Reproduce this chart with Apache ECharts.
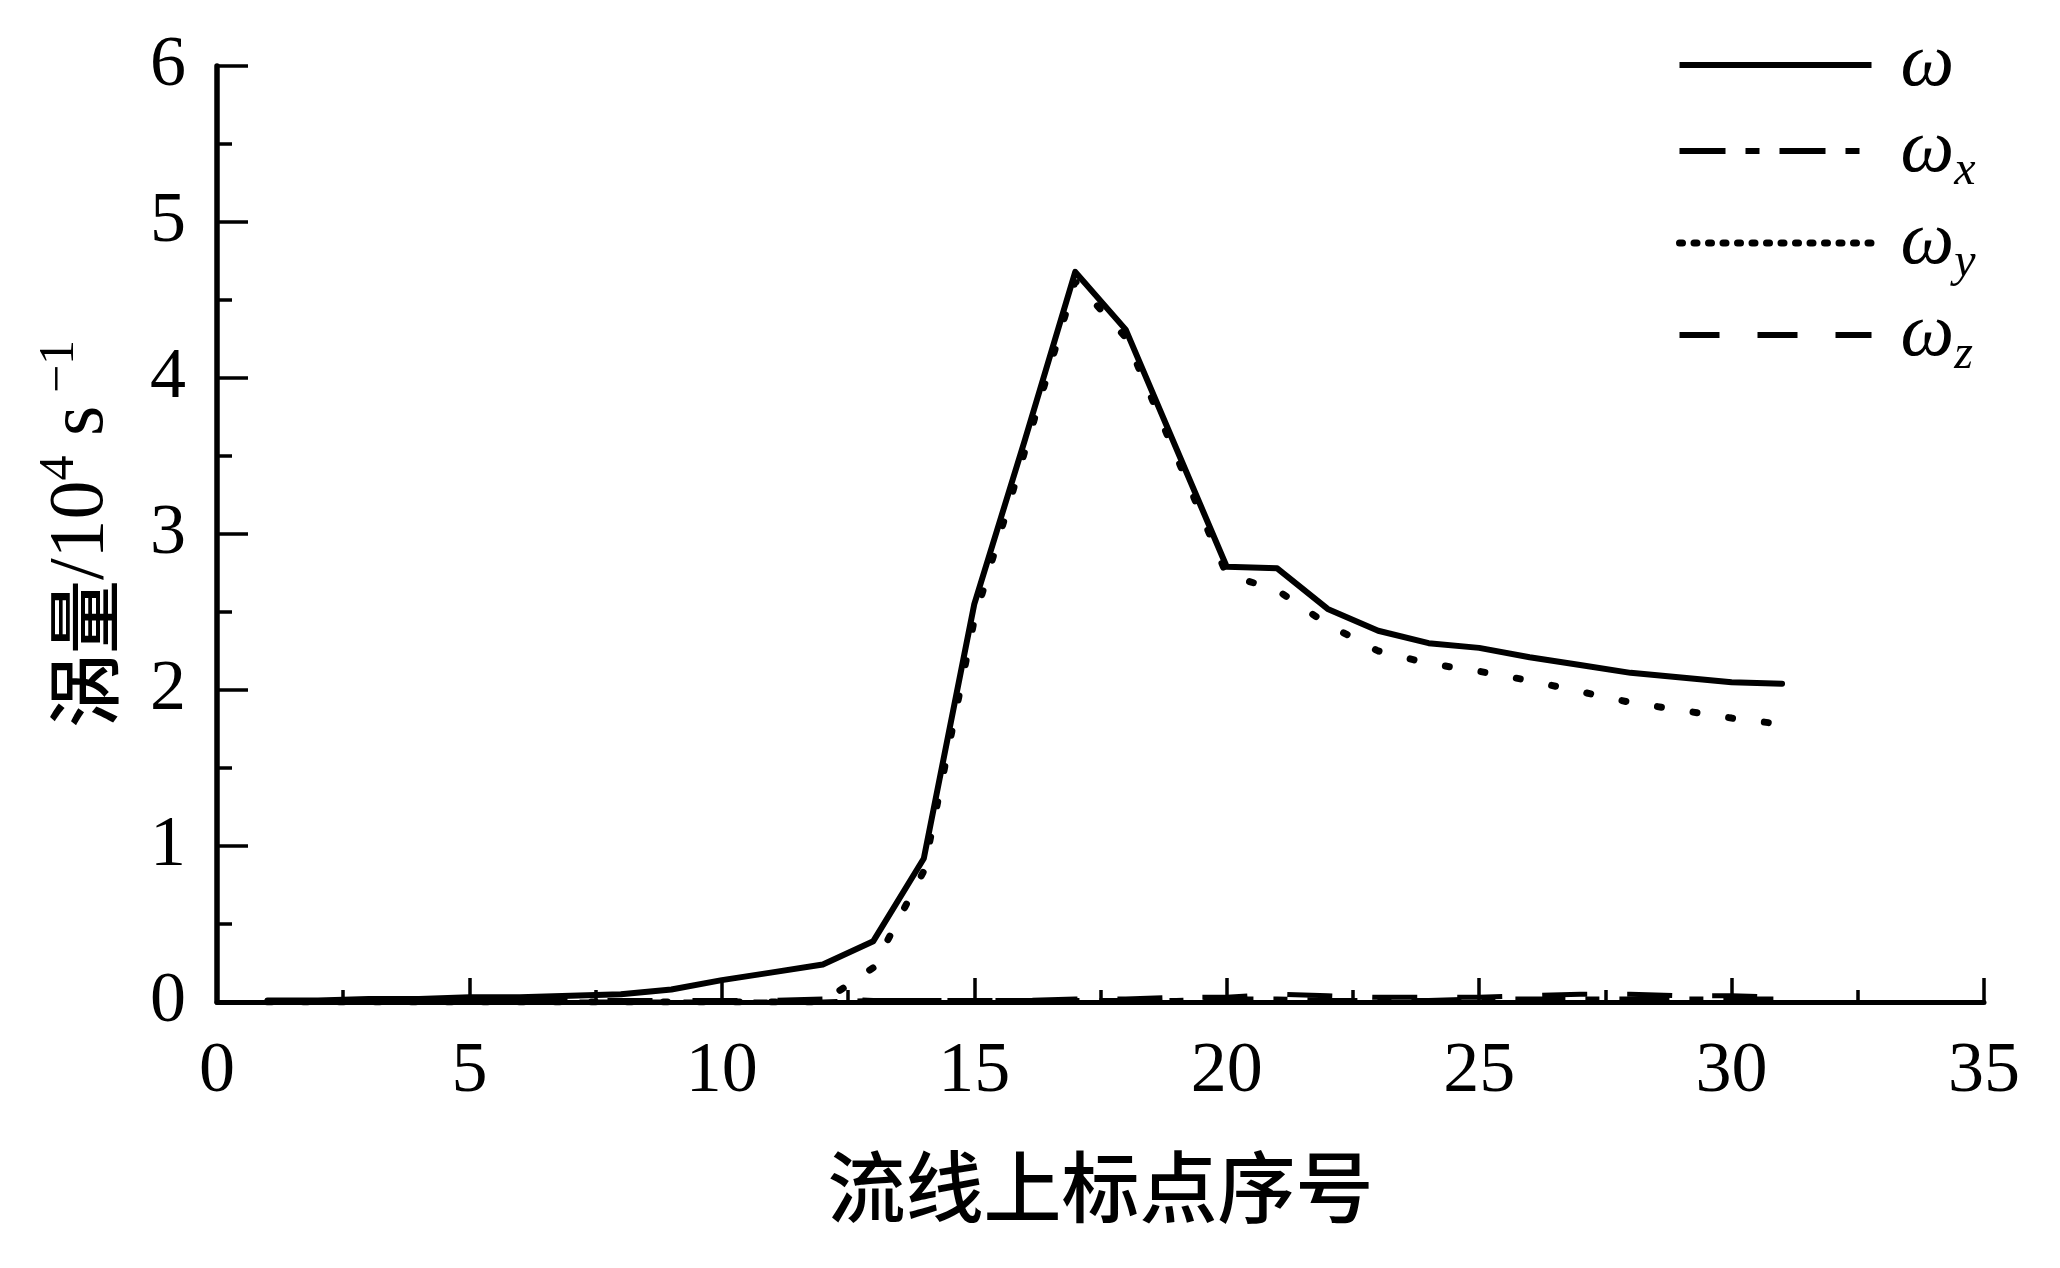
<!DOCTYPE html>
<html>
<head>
<meta charset="utf-8">
<script src="https://cdn.jsdelivr.net/npm/echarts@6/dist/echarts.min.js"></script>
<style>
html,body{margin:0;padding:0;background:#ffffff;}
#chart{width:2060px;height:1268px;}
</style>
</head>
<body>
<div id="chart"></div>
<script>
// ---- data ----
const pointIndex = [1,2,3,4,5,6,7,8,9,10,11,12,13,14,15,16,17,18,19,20,21,22,23,24,25,26,27,28,29,30,31];
const omega  = [0.01,0.01,0.02,0.02,0.03,0.03,0.04,0.05,0.08,0.14,0.19,0.24,0.39,0.92,2.55,3.60,4.68,4.31,3.55,2.79,2.78,2.52,2.38,2.30,2.27,2.21,2.16,2.11,2.08,2.05,2.04];
const omegaX = [0,0,0,0,0,0,0,0,0,0,0,0,0.01,0.01,0.01,0.01,0.01,0.01,0.01,0.02,0.02,0.01,0.01,0.01,0.02,0.02,0.02,0.02,0.02,0.02,0.02];
const omegaY = [0,0,0,0,0,0,0,0,0,0,0,0,0.22,0.84,2.45,3.53,4.62,4.26,3.50,2.74,2.64,2.42,2.25,2.17,2.12,2.06,1.99,1.92,1.87,1.82,1.78];
const omegaZ = [0.01,0.01,0.01,0.01,0.01,0.01,0.01,0.01,0.01,0.01,0.01,0.02,0.01,0.01,0.01,0.01,0.02,0.02,0.03,0.03,0.05,0.04,0.03,0.03,0.03,0.04,0.05,0.05,0.04,0.04,0.03];
const seriesNames = ['ω', 'ωx', 'ωy', 'ωz'];
const xAxisName = '流线上标点序号';
const yAxisName = '{cn|涡量}{n|/10}{sup|4}{n| s}{sup| −1}';
const xRange = [0, 35, 5];
const yRange = [0, 6, 1];

// ---- styles ----
const serif = 'Liberation Serif';
const cjk = 'Noto Sans CJK SC';
const plotStyles = [
  {type: 'solid', width: 6, cap: 'round', join: 'round'},
  {type: [50, 20, 14, 20], width: 5, cap: 'butt'},
  {type: [4, 32], width: 7, cap: 'round'},
  {type: [45, 40], width: 5, cap: 'butt'}
];
const legendStyles = [
  {type: 'solid', width: 6, cap: 'butt'},
  {type: [46, 20, 14, 20], width: 6, cap: 'butt'},
  {type: [3, 11.5], width: 7, cap: 'round'},
  {type: [40, 38], width: 6, cap: 'butt'}
];
const seriesData = [omega, omegaX, omegaY, omegaZ];

const toPairs = arr => pointIndex.map((x, i) => [x, arr[i]]);

const chart = echarts.init(document.getElementById('chart'), null, {renderer: 'canvas'});
const hiddenSymbol = {color: 'rgba(0,0,0,0)', borderColor: 'rgba(0,0,0,0)', borderWidth: 0, opacity: 0};
const option = {
  backgroundColor: '#ffffff',
  animation: false,
  grid: {left: 217, right: 76, top: 66, bottom: 266, containLabel: false, outerBoundsMode: 'none'},
  legend: {
    orient: 'vertical',
    left: 1671,
    top: 22,
    itemWidth: 192,
    itemHeight: 88,
    itemGap: 10,
    selectedMode: false,
    data: seriesNames.map((n, i) => ({name: n, lineStyle: Object.assign({color: '#000'}, legendStyles[i]), itemStyle: hiddenSymbol})),
    formatter: name => name.length > 1 ? '{w|ω}{s|' + name.slice(1) + '}' : '{w|ω}',
    textStyle: {
      color: '#000',
      padding: [0, 0, 0, 24],
      rich: {
        w: {fontFamily: serif, fontStyle: 'italic', fontSize: 76, lineHeight: 88, color: '#000'},
        s: {fontFamily: serif, fontStyle: 'italic', fontSize: 48, lineHeight: 60, verticalAlign: 'bottom', color: '#000'}
      }
    }
  },
  xAxis: {
    type: 'value',
    min: xRange[0], max: xRange[1], interval: xRange[2],
    name: xAxisName,
    nameLocation: 'middle',
    nameGap: 146,
    nameMoveOverlap: false,
    nameTextStyle: {fontFamily: cjk, fontSize: 78, fontWeight: 500, color: '#000'},
    axisLine: {show: true, onZero: false, lineStyle: {color: '#000', width: 5}},
    axisTick: {show: true, inside: true, length: 24, lineStyle: {color: '#000', width: 3.5}},
    minorTick: {show: true, splitNumber: 2, length: 12, lineStyle: {color: '#000', width: 3.5}},
    axisLabel: {fontFamily: serif, fontSize: 72, color: '#000', margin: 34},
    splitLine: {show: false},
    minorSplitLine: {show: false}
  },
  yAxis: {
    type: 'value',
    min: yRange[0], max: yRange[1], interval: yRange[2],
    name: yAxisName,
    nameLocation: 'middle',
    nameGap: 96,
    nameMoveOverlap: false,
    nameTextStyle: {
      color: '#000',
      rich: {
        cn: {fontFamily: cjk, fontSize: 74, fontWeight: 500, lineHeight: 86, verticalAlign: 'bottom', color: '#000'},
        n: {fontFamily: serif, fontSize: 78, lineHeight: 86, verticalAlign: 'bottom', color: '#000'},
        sup: {fontFamily: serif, fontSize: 50, lineHeight: 32, verticalAlign: 'top', color: '#000'}
      }
    },
    axisLine: {show: true, onZero: false, lineStyle: {color: '#000', width: 5.5}},
    axisTick: {show: true, inside: true, length: 31, lineStyle: {color: '#000', width: 3.5}},
    minorTick: {show: true, splitNumber: 2, length: 15, lineStyle: {color: '#000', width: 3.5}},
    axisLabel: {fontFamily: serif, fontSize: 72, color: '#000', margin: 31},
    splitLine: {show: false},
    minorSplitLine: {show: false}
  },
  series: seriesNames.map((n, i) => ({
    name: n,
    type: 'line',
    data: toPairs(seriesData[i]),
    symbol: 'none',
    showSymbol: false,
    smooth: false,
    z: 10 - i,
    lineStyle: Object.assign({color: '#000'}, plotStyles[i]),
    itemStyle: {color: '#000'},
    emphasis: {disabled: true}
  }))
};
chart.setOption(option);
</script>
</body>
</html>
